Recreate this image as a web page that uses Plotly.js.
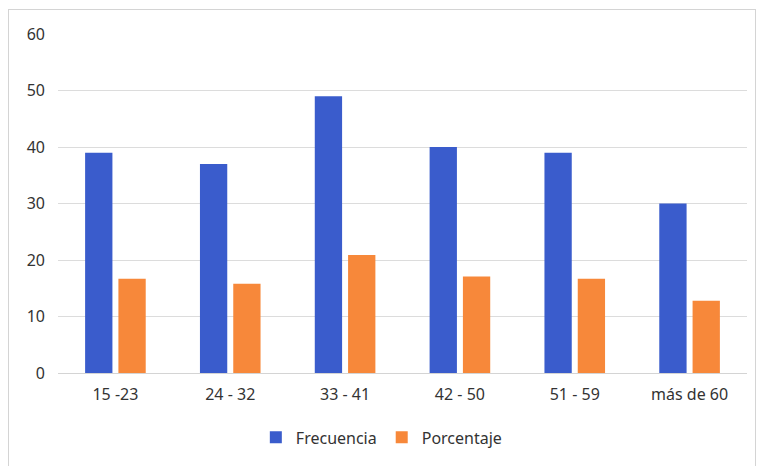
<!DOCTYPE html>
<html>
<head>
<meta charset="utf-8">
<script src="https://cdn.plot.ly/plotly-3.0.1.min.js"></script>
<style>
  html, body { margin: 0; padding: 0; background: #fff; }
  #wrap { position: relative; width: 758px; height: 466px; overflow: hidden; }
  #chart { width: 758px; height: 466px; }
  #frame { position: absolute; left: 8px; top: 9px; width: 746px; height: 470px;
           border: 1px solid #d4d4d4; pointer-events: none; }
</style>
</head>
<body>
<div id="wrap">
  <div id="chart"></div>
  <div id="frame"></div>
</div>
<script>
const categories = ["15 -23", "24 - 32", "33 - 41", "42 - 50", "51 - 59", "más de 60"];
const frecuencia = [39, 37, 49, 40, 39, 30];
const porcentaje = [16.7, 15.8, 20.9, 17.1, 16.7, 12.8];
const yTicks = [0, 10, 20, 30, 40, 50, 60];

const traces = [
  { type: "bar", name: "Frecuencia", x: categories, y: frecuencia,
    marker: { color: "#3a5ccc" }, hoverinfo: "x+y" },
  { type: "bar", name: "Porcentaje", x: categories, y: porcentaje,
    marker: { color: "#f7883a" }, hoverinfo: "x+y" }
];

const layout = {
  width: 758, height: 466,
  margin: { l: 58, r: 11, t: 34, b: 91 },
  paper_bgcolor: "#ffffff", plot_bgcolor: "#ffffff",
  barmode: "group", bargap: 0.42, bargroupgap: 0.18,
  font: { family: "Noto Sans, Open Sans, sans-serif", size: 16, color: "#333333" },
  showlegend: true,
  legend: { orientation: "h", x: 0.47, xanchor: "center", y: -0.19, yanchor: "middle",
            font: { size: 16, color: "#333333" }, itemwidth: 30 },
  xaxis: { type: "category", showgrid: false, zeroline: false, showline: true,
           linecolor: "#d4d4d4", linewidth: 1, ticks: "", ticklabelstandoff: 7,
           tickfont: { size: 16, color: "#333333" } },
  yaxis: { range: [0, 60], tickvals: yTicks, ticktext: yTicks.map(String),
           showgrid: true, gridcolor: "#dcdcdc", gridwidth: 1, zeroline: false,
           showline: false, ticks: "", ticklabelstandoff: 12,
           tickfont: { size: 16, color: "#333333" } }
};

Plotly.newPlot("chart", traces, layout, { displayModeBar: false, staticPlot: true });
</script>
</body>
</html>
